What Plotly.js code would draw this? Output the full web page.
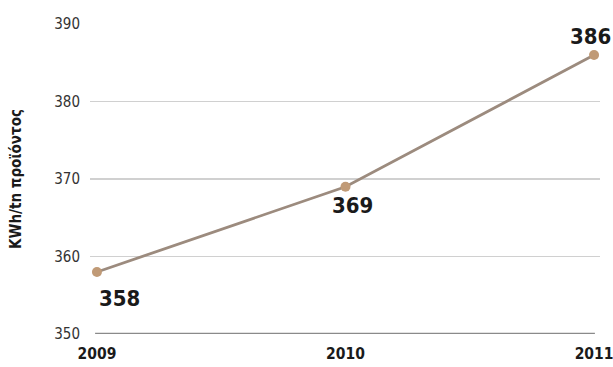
<!DOCTYPE html>
<html>
<head>
<meta charset="utf-8">
<script src="https://cdn.plot.ly/plotly-3.0.1.min.js"></script>
<style>html,body{margin:0;padding:0;background:#fff;}#chart{width:613px;height:367px;}
#chart svg text{font-stretch:condensed !important;}</style>
</head>
<body>
<div id="chart"></div>
<script>
const years = [2009, 2010, 2011];
const values = [358, 369, 386];
const yTicks = [350, 360, 370, 380, 390];
const yTitle = 'KWh/tn προϊόντος';

const FONT = '"DejaVu Sans Condensed", "DejaVu Sans", sans-serif';

const trace = {
  x: years, y: values, type: 'scatter', mode: 'lines+markers',
  line: {color: '#9c8b7e', width: 2.8},
  marker: {color: '#c09a76', size: 10, line: {width: 0}},
  hoverinfo: 'skip', cliponaxis: false
};

const offsets = [{xs: 23, ys: -26}, {xs: 7, ys: -19}, {xs: -4, ys: 19}];
const annotations = years.map((yr, i) => ({
  x: yr, y: values[i], text: '<b>' + values[i] + '</b>', showarrow: false,
  xshift: offsets[i].xs, yshift: offsets[i].ys,
  font: {family: FONT, size: 22, color: '#1a1a1a'}
}));

const layout = {
  width: 613, height: 367,
  margin: {l: 90, r: 13, t: 24, b: 33},
  paper_bgcolor: '#fff', plot_bgcolor: '#fff',
  showlegend: false,
  font: {family: FONT},
  xaxis: {
    range: [2008.972, 2011.024], tickvals: years,
    ticktext: years.map(y => '<b>' + y + '</b>'),
    showgrid: false, zeroline: false, showline: false, ticks: '',
    ticklabeloverflow: 'allow',
    tickfont: {family: FONT, size: 15.5, color: '#1a1a1a'}, ticklabelstandoff: 8
  },
  yaxis: {
    range: [350, 390], tickvals: yTicks, showgrid: true, gridcolor: '#d0d0d0', gridwidth: 1.5,
    zeroline: false, showline: false, ticks: '',
    tickfont: {family: FONT, size: 15, color: '#333'}, ticklabelstandoff: 9,
    title: {text: '<b>' + yTitle + '</b>', font: {family: FONT, size: 15, color: '#1a1a1a'}, standoff: 28}
  },
  shapes: [{type: 'line', xref: 'paper', yref: 'y', x0: 0.01, x1: 0.99, y0: 350, y1: 350,
    line: {color: '#8a8a8a', width: 2.5}}],
  annotations: annotations
};

Plotly.newPlot('chart', [trace], layout, {staticPlot: true, displayModeBar: false});
</script>
</body>
</html>
